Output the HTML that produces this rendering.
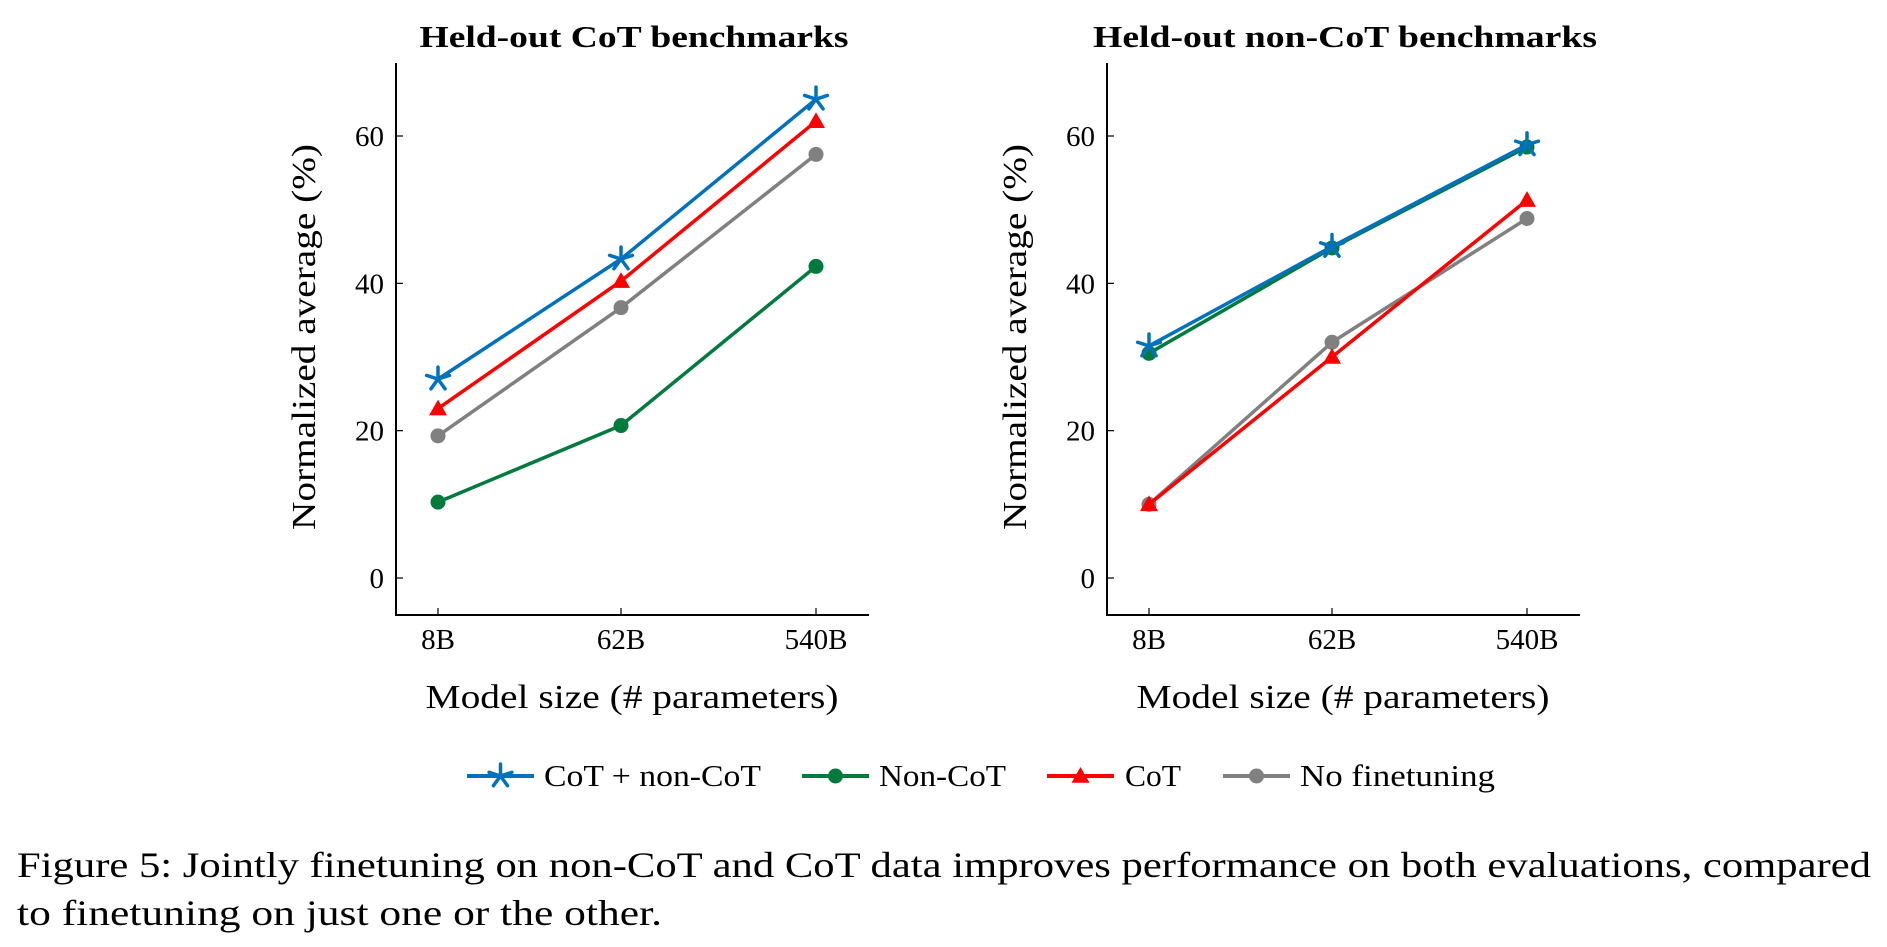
<!DOCTYPE html>
<html><head><meta charset="utf-8"><style>
html,body{margin:0;padding:0;background:#fff;}
svg{display:block;font-family:"Liberation Serif",serif;}
</style></head><body>
<svg id="fig" width="1887" height="947" viewBox="0 0 1887 947" xmlns="http://www.w3.org/2000/svg"></svg>
<script>
const categories = ["8B","62B","540B"];
const yTicks = [0,20,40,60];
const seriesNames = ["CoT + non-CoT","Non-CoT","CoT","No finetuning"];
const leftBlue = [27,43.3,65];
const leftGreen = [10.3,20.7,42.3];
const leftRed = [23,40.3,62];
const leftGray = [19.3,36.7,57.5];
const rightBlue = [31.5,45,58.8];
const rightGreen = [30.5,44.8,58.5];
const rightRed = [10,30,51.3];
const rightGray = [10,32,48.8];

const NS="http://www.w3.org/2000/svg";
const svg=document.getElementById('fig');
function mk(tag,attrs,parent){const e=document.createElementNS(NS,tag);for(const k in attrs)e.setAttribute(k,attrs[k]);(parent||svg).appendChild(e);return e;}
const COL={blue:"#0072bd",green:"#007a3d",red:"#ff0000",gray:"#808080"};

function marker(g,type,x,y,c){
  if(type==="star"){
    const r=12;
    for(let i=0;i<5;i++){const a=-Math.PI/2+i*2*Math.PI/5;
      const l=mk('line',{x1:x,y1:y,x2:x+r*Math.cos(a),y2:y+r*Math.sin(a),stroke:c,'stroke-width':3.5,'stroke-linecap':'round'},g);
      
      }
  } else if(type==="circle"){
    const m=mk('circle',{cx:x,cy:y,r:7.5,fill:c},g);
    
    
  } else {
    const s=9;
    const m=mk('polygon',{points:`${x},${y-s} ${x-s},${y+s*0.75} ${x+s},${y+s*0.75}`,fill:c},g);
    
    
  }
}

function panel(name,axX,axRight,xs,title,titleX,titleW,yTitleX,series){
  const top=63,bottom=615,y0=578,y60=136;
  const ys=v=>y0+(y60-y0)*v/60;
  const xp=i=>xs[i];
  const g=mk('g',{});
  
  
  const t=mk('text',{x:titleX,y:47,'text-anchor':'middle','font-size':31,'font-weight':'bold',textLength:titleW,lengthAdjust:'spacingAndGlyphs'},g);
  t.textContent=title;
  
  
  const ax=mk('path',{d:`M${axX},${top}V${bottom}H${axRight}`,fill:'none',stroke:'#000','stroke-width':2},g);
  
  
  yTicks.forEach(v=>{
    const tk=mk('line',{x1:axX,x2:axX+7,y1:ys(v),y2:ys(v),stroke:'#000','stroke-width':1.2},g);
    
    
    const tl=mk('text',{x:axX-12,y:ys(v)+10,'text-anchor':'end','font-size':29},g);
    tl.textContent=v;
    
    
  });
  categories.forEach((c,i)=>{
    const tk=mk('line',{x1:xp(i),x2:xp(i),y1:bottom,y2:bottom-7,stroke:'#000','stroke-width':1.2},g);
    
    
    const tl=mk('text',{x:xp(i),y:649,'text-anchor':'middle','font-size':29},g);
    tl.textContent=c;
    
    
  });
  const xt=mk('text',{x:(xs[0]+xs[2])/2+5,y:708,'text-anchor':'middle','font-size':34,textLength:413,lengthAdjust:'spacingAndGlyphs'},g);
  xt.textContent="Model size (# parameters)";
  
  
  const yt=mk('text',{x:0,y:0,'text-anchor':'middle','font-size':34,textLength:386,lengthAdjust:'spacingAndGlyphs',transform:`translate(${yTitleX},337) rotate(-90)`},g);
  yt.textContent="Normalized average (%)";
  
  
  series.forEach(s=>{
    const sg=mk('g',{},g);
    
    
    const pts=s.vals.map((v,i)=>xp(i)+','+ys(v)).join(' ');
    const pl=mk('polyline',{points:pts,fill:'none',stroke:s.c,'stroke-width':3.5,'stroke-linejoin':'round'},sg);
    
    
    s.vals.forEach((v,i)=>marker(sg,s.m,xp(i),ys(v),s.c));
  });
}
panel('left-panel',396,869,[438,621,816],"Held-out CoT benchmarks",634,429,315,[
  {key:'no-finetuning',vals:leftGray,c:COL.gray,m:'circle'},
  {key:'non-cot',vals:leftGreen,c:COL.green,m:'circle'},
  {key:'cot',vals:leftRed,c:COL.red,m:'tri'},
  {key:'cot-plus-non-cot',vals:leftBlue,c:COL.blue,m:'star'}]);
panel('right-panel',1107,1580,[1149,1332,1527],"Held-out non-CoT benchmarks",1345,504,1026,[
  {key:'no-finetuning',vals:rightGray,c:COL.gray,m:'circle'},
  {key:'cot',vals:rightRed,c:COL.red,m:'tri'},
  {key:'non-cot',vals:rightGreen,c:COL.green,m:'circle'},
  {key:'cot-plus-non-cot',vals:rightBlue,c:COL.blue,m:'star'}]);

const lg=mk('g',{});


const legendSpec=[[467,COL.blue,'star',544,217],[802,COL.green,'circle',879,127],[1047,COL.red,'tri',1125,56],[1223,COL.gray,'circle',1300,195]];
legendSpec.forEach((s,i)=>{
  const eg=mk('g',{},lg);
  
  
  mk('line',{x1:s[0],x2:s[0]+67,y1:776,y2:776,stroke:s[1],'stroke-width':4},eg);
  marker(eg,s[2],s[0]+33.5,776,s[1]);
  const t=mk('text',{x:s[3],y:786,'font-size':31,textLength:s[4],lengthAdjust:'spacingAndGlyphs'},eg);
  t.textContent=seriesNames[i];
});
const c1=mk('text',{x:17,y:877,'font-size':36,textLength:1854,lengthAdjust:'spacingAndGlyphs'});
c1.textContent="Figure 5: Jointly finetuning on non-CoT and CoT data improves performance on both evaluations, compared";


const c2=mk('text',{x:17,y:925,'font-size':36,textLength:645,lengthAdjust:'spacingAndGlyphs'});
c2.textContent="to finetuning on just one or the other.";


</script>
</body></html>
